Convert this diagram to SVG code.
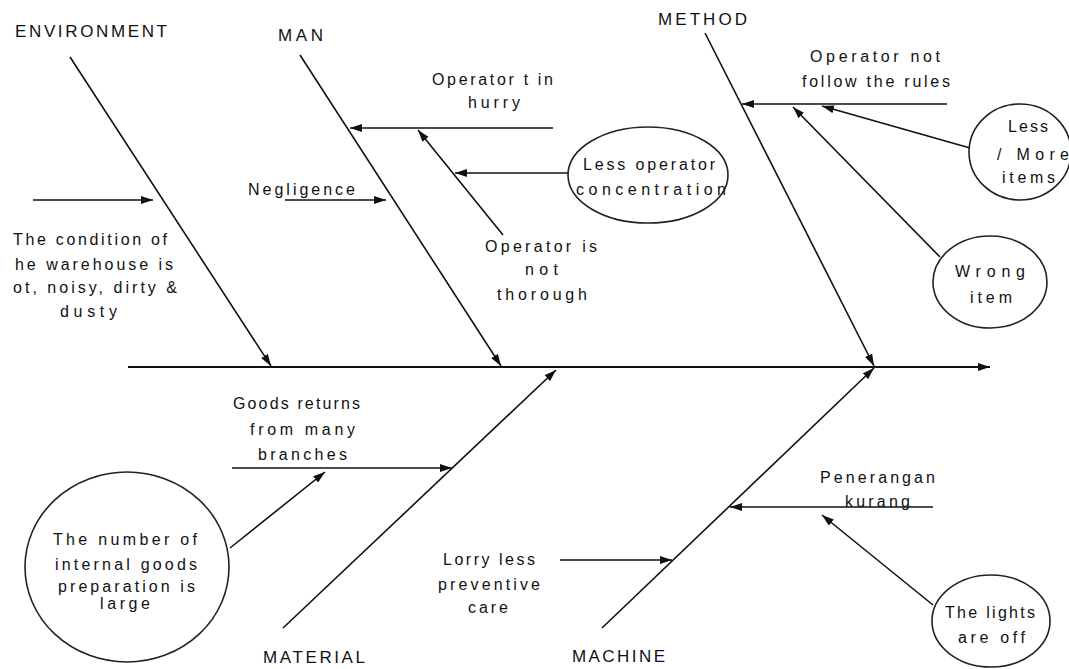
<svg xmlns="http://www.w3.org/2000/svg" width="1069" height="669" viewBox="0 0 1069 669">
<defs>
<style>
.ln{stroke:#111;stroke-width:1.6;fill:none;marker-end:url(#ah)}
.sp{stroke:#111;stroke-width:2;fill:none;marker-end:url(#ah)}
.el{stroke:#222;stroke-width:1.6;fill:#fff}
text{font-family:"Liberation Sans",Arial,sans-serif;font-size:16px;fill:#111}
.hd{font-size:17px}
</style>
<marker id="ah" viewBox="0 0 12 8" refX="12" refY="4" markerWidth="12" markerHeight="8" orient="auto" markerUnits="userSpaceOnUse"><path d="M0,0 L12,4 L0,8 z" fill="#111"/></marker>
</defs>
<rect width="1069" height="669" fill="#fff"/>
<g id="connectors">
<path class="sp" d="M128,367 L990,367"/>
<path class="ln" d="M70,57 L271,366"/>
<path class="ln" d="M300,55 L501,366"/>
<path class="ln" d="M705,33 L874,366"/>
<path class="ln" d="M283,628 L556,370"/>
<path class="ln" d="M602,628 L874,368"/>
<path class="ln" d="M33,200 L153,200"/>
<path class="ln" d="M285,200 L386,200"/>
<path class="ln" d="M553,128 L350,128"/>
<path class="ln" d="M570,173 L455,173"/>
<path class="ln" d="M503,235 L418,130"/>
<path class="ln" d="M947,104 L742,104"/>
<path class="ln" d="M970,148 L822,106"/>
<path class="ln" d="M940,257 L793,107"/>
<path class="ln" d="M232,468 L452,468"/>
<path class="ln" d="M230,548 L325,472"/>
<path class="ln" d="M560,560 L672,560"/>
<path class="ln" d="M933,507 L730,507"/>
<path class="ln" d="M933,605 L822,515"/>
</g>
<g id="environment"><text class="hd" x="15" y="37" textLength="152" lengthAdjust="spacing">ENVIRONMENT</text></g>
<g id="man"><text class="hd" x="278" y="41" textLength="45" lengthAdjust="spacing">MAN</text></g>
<g id="method"><text class="hd" x="658" y="25" textLength="89" lengthAdjust="spacing">METHOD</text></g>
<g id="material"><text class="hd" x="263" y="663" textLength="102" lengthAdjust="spacing">MATERIAL</text></g>
<g id="machine"><text class="hd" x="572" y="662" textLength="93" lengthAdjust="spacing">MACHINE</text></g>
<g id="warehouse-condition">
<text x="13" y="245" textLength="154" lengthAdjust="spacing">The condition of</text>
<text x="15" y="270" textLength="158" lengthAdjust="spacing">he warehouse is</text>
<text x="13" y="293" textLength="164" lengthAdjust="spacing">ot, noisy, dirty &amp;</text>
<text x="60" y="317" textLength="57" lengthAdjust="spacing">dusty</text>
</g>
<g id="negligence"><text x="248" y="195" textLength="107" lengthAdjust="spacing">Negligence</text></g>
<g id="operator-hurry">
<text x="432" y="85" textLength="121" lengthAdjust="spacing">Operator t in</text>
<text x="468" y="108" textLength="52" lengthAdjust="spacing">hurry</text>
</g>
<g id="less-concentration">
<ellipse class="el" cx="648" cy="175" rx="80" ry="48"/>
<text x="583" y="170" textLength="132" lengthAdjust="spacing">Less operator</text>
<text x="576" y="195" textLength="150" lengthAdjust="spacing">concentration</text>
</g>
<g id="not-thorough">
<text x="485" y="252" textLength="112" lengthAdjust="spacing">Operator is</text>
<text x="525" y="275" textLength="33" lengthAdjust="spacing">not</text>
<text x="497" y="300" textLength="90" lengthAdjust="spacing">thorough</text>
</g>
<g id="not-follow-rules">
<text x="810" y="62" textLength="130" lengthAdjust="spacing">Operator not</text>
<text x="802" y="87" textLength="148" lengthAdjust="spacing">follow the rules</text>
</g>
<g id="less-more-items">
<ellipse class="el" cx="1020" cy="152" rx="51" ry="48"/>
<text x="1008" y="132" textLength="40" lengthAdjust="spacing">Less</text>
<text x="997" y="160" textLength="72" lengthAdjust="spacing">/ More</text>
<text x="1002" y="183" textLength="53" lengthAdjust="spacing">items</text>
</g>
<g id="wrong-item">
<ellipse class="el" cx="990" cy="282" rx="57" ry="46"/>
<text x="955" y="277" textLength="70" lengthAdjust="spacing">Wrong</text>
<text x="970" y="303" textLength="42" lengthAdjust="spacing">item</text>
</g>
<g id="goods-returns">
<text x="233" y="409" textLength="127" lengthAdjust="spacing">Goods returns</text>
<text x="250" y="435" textLength="105" lengthAdjust="spacing">from many</text>
<text x="258" y="460" textLength="89" lengthAdjust="spacing">branches</text>
</g>
<g id="internal-goods">
<ellipse class="el" cx="127" cy="567" rx="102" ry="95"/>
<text x="53" y="545" textLength="144" lengthAdjust="spacing">The number of</text>
<text x="55" y="570" textLength="142" lengthAdjust="spacing">internal goods</text>
<text x="58" y="592" textLength="137" lengthAdjust="spacing">preparation is</text>
<text x="100" y="609" textLength="50" lengthAdjust="spacing">large</text>
</g>
<g id="lorry">
<text x="443" y="565" textLength="92" lengthAdjust="spacing">Lorry less</text>
<text x="438" y="590" textLength="102" lengthAdjust="spacing">preventive</text>
<text x="468" y="613" textLength="40" lengthAdjust="spacing">care</text>
</g>
<g id="penerangan">
<text x="820" y="483" textLength="115" lengthAdjust="spacing">Penerangan</text>
<text x="845" y="507" textLength="65" lengthAdjust="spacing">kurang</text>
</g>
<g id="lights-off">
<ellipse class="el" cx="991" cy="621" rx="59" ry="46"/>
<text x="945" y="618" textLength="90" lengthAdjust="spacing">The lights</text>
<text x="958" y="643" textLength="67" lengthAdjust="spacing">are off</text>
</g>
</svg>
